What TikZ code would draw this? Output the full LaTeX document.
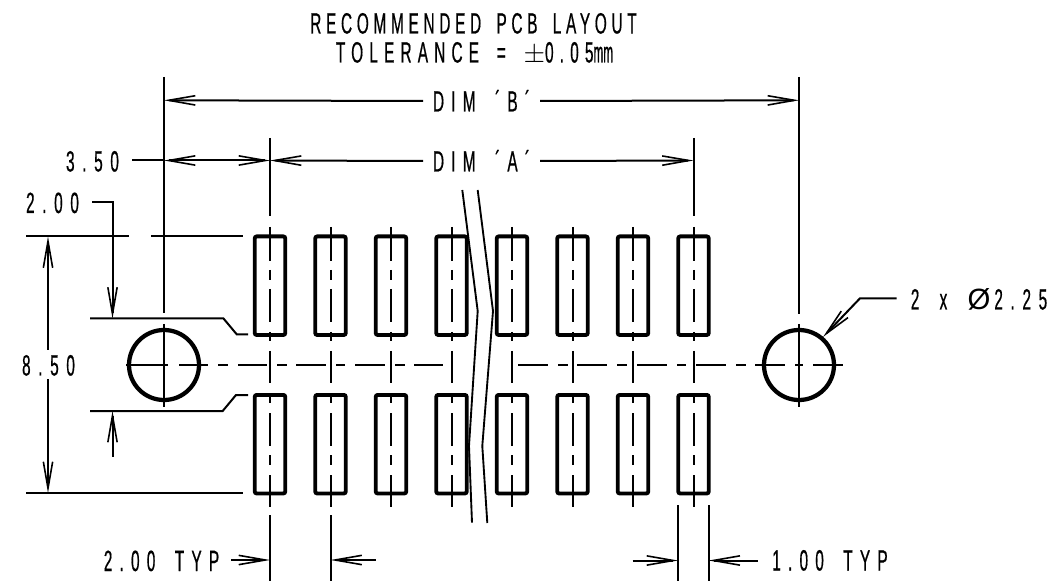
\documentclass[tikz,border=0pt]{standalone}
\usepackage{fontspec}
\usetikzlibrary{arrows.meta}
\newfontfamily\cadA[FakeStretch=0.525,LetterSpace=16,WordSpace=1.7,FakeBold=0.5]{Liberation Sans}
\newfontfamily\cadB[FakeStretch=0.525,LetterSpace=21,WordSpace=1.7,FakeBold=0.5]{Liberation Sans}
\newfontfamily\cadC[FakeStretch=0.525,LetterSpace=24.5,WordSpace=1.7,FakeBold=0.5]{Liberation Sans}
\newfontfamily\cadD[FakeStretch=0.525,LetterSpace=26,WordSpace=1.7,FakeBold=0.5]{Liberation Sans}
\newfontfamily\cadT[FakeStretch=0.4,FakeBold=0.5]{Liberation Sans}
\newfontfamily\cadsym{Liberation Sans}
\tikzset{
  x=0.75pt,y=-0.75pt,
  thinline/.style={line width=1.5pt,line cap=butt},
  barb/.tip={Straight Barb[length=20pt,width=7pt,line width=1.2pt]},
  dimline/.style={thinline,-{barb}},
  dimboth/.style={thinline,{barb}-{barb}},
  breakline/.style={line width=1.4pt,line join=miter},
  pad/.style={draw,line width=2.9pt,rounded corners=1.5pt,minimum width=22.9pt,minimum height=73.9pt,inner sep=0pt},
  hole/.style={draw,circle,line width=3.2pt,minimum size=52.5pt,inner sep=0pt},
  cadtext/.style={font=#1\fontsize{22}{22}\selectfont,text height=15.75pt,text depth=0pt,inner sep=0pt,outer sep=0pt,align=center},
  centre/.style={thinline}
}
\begin{document}
\begin{tikzpicture}
\useasboundingbox (0,0) rectangle (1058,581);
% pads
\foreach \i/\x in {1/270,2/330.5,3/391,4/451.5,5/512,6/572.5,7/633,8/693.5}{
  \node[pad] (pt\i) at (\x,285.7) {};
  \node[pad] (pb\i) at (\x,444.2) {};
  \foreach \a/\b in {227/261,270/280,289/322,332/341,351/383,393/403,413/446,455/465,475/507}
    \draw[centre] (\x,\a) -- (\x,\b);
}
\foreach \x in {270,693.5}
  \draw[centre] (\x,138) -- (\x,216);
% holes
\node[hole] (hl) at (164,365) {};
\node[hole] (hr) at (799,365) {};
% horizontal centre line
\foreach \a/\b in {126/168,179/208,218/228,238/267,277/287,296/326,336/345,355/385,395/405,414/443,518/548,558/568,577/607,617/627,637/667,677/686,696/726,736/746,755/785,795/803,813/843}
  \draw[centre] (\a,365) -- (\b,365);
% texts
\node[cadtext=\cadA] (t1) at (473.5,23) {RECOMMENDED PCB LAYOUT};
\node[cadtext=\cadB] (t2) at (474.5,52) {TOLERANCE = $\pm$0.05{\cadT mm}};
\node[cadtext=\cadC,minimum width=87.75pt] (dimB) at (481.5,101) {DIM ´B´};
\node[cadtext=\cadC,minimum width=87.75pt] (dimA) at (481.5,161) {DIM ´A´};
\node[cadtext=\cadD] (t350) at (92.5,161) {3.50};
\node[cadtext=\cadD] (t200) at (52.5,202.5) {2.00};
\node[cadtext=\cadD] (t850) at (48.5,365) {8.50};
\node[cadtext=\cadC] (t200t) at (161.5,560.5) {2.00 TYP};
\node[cadtext=\cadC] (t100t) at (830,560) {1.00 TYP};
\node[cadtext=\cadD] (tdia) at (979,299) {2 x {\cadsym Ø}\hspace{3pt}2.25};
% extension lines
\draw[thinline] (164,77) -- (164,313);
\draw[thinline] (164,324) -- (164,407);
\draw[thinline] (799,77) -- (799,314);
\draw[thinline] (799,324) -- (799,407);
\draw[centre] (270,515) -- (270,581);
\draw[centre] (330.5,515) -- (330.5,581);
\draw[thinline] (678,505) -- (678,581);
\draw[thinline] (708.7,505) -- (708.7,581);
\draw[thinline] (26,236.5) -- (129,236.5);
\draw[thinline] (151,236.5) -- (243,236.5);
\draw[thinline] (26,493) -- (243,493);
\draw[thinline] (90,318.5) -- (223.5,318.5) -- (236.7,334.3) -- (248,334.3);
\draw[thinline] (90,411) -- (222.7,411) -- (236,395) -- (248,395);
% dimensions
\draw[dimline] (dimB.west) -- (164,100.3);
\draw[dimline] (dimB.east) -- (799,100.3);
\draw[dimline] (dimA.west) -- (270,160.5);
\draw[dimline] (dimA.east) -- (693.5,160.5);
\draw[thinline] (132,160.5) -- (164,160.5);
\draw[dimboth] (164,160.5) -- (270,160.5);
\draw[dimline] (48,350) -- (48,236.5);
\draw[dimline] (48,379) -- (48,493);
\draw[dimline] (92,202) -- (112.5,202) -- (112.5,318.5);
\draw[dimline] (112.5,456.7) -- (112.5,411);
\draw[dimline] (231,560) -- (270,560);
\draw[dimline] (375.7,560) -- (330.5,560);
\draw[dimline] (632.7,560.5) -- (678,560.5);
\draw[dimline] (757.7,560.5) -- (708.7,560.5);
\draw[dimline] (896.7,298.3) -- (860,298.3) -- (823,337);
% break lines
\draw[breakline] (462.3,190) -- (477.7,311) -- (469,446) -- (472,522.7);
\draw[breakline] (477.7,190) -- (493,311) -- (482.3,446) -- (487.3,523);
\end{tikzpicture}
\end{document}
